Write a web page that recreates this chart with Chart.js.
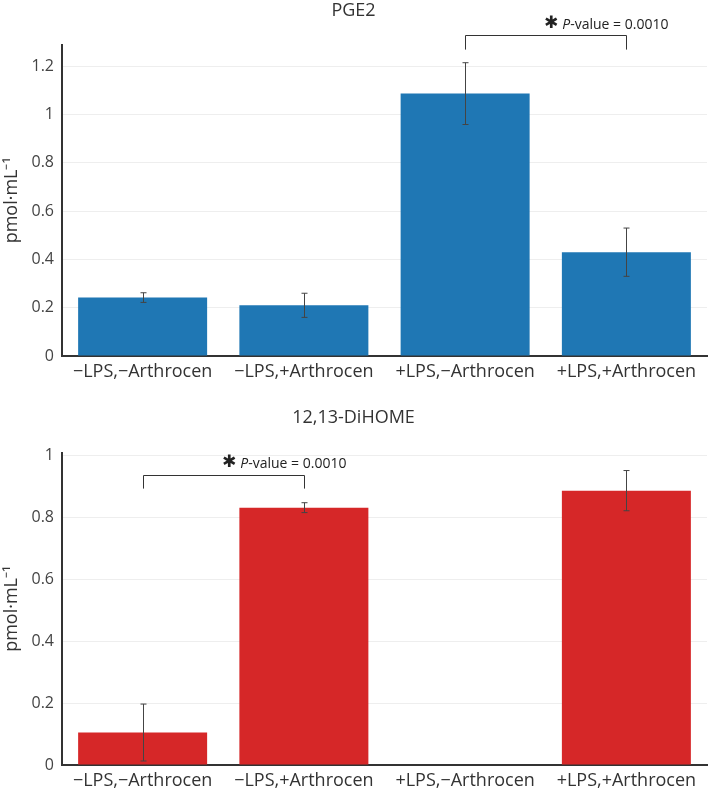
<!DOCTYPE html>
<html>
<head>
<meta charset="utf-8">
<script src="https://cdn.jsdelivr.net/npm/chart.js@4"></script>
<style>
  body { margin: 0; background: #fff; }
  canvas { display: block; }
</style>
</head>
<body>
<canvas id="pgeChart" width="709" height="390"></canvas>
<canvas id="dihomeChart" width="709" height="400"></canvas>
<script>
// data
const categories = ['\u2212LPS,\u2212Arthrocen', '\u2212LPS,+Arthrocen', '+LPS,\u2212Arthrocen', '+LPS,+Arthrocen'];

const pgeValues = [0.242, 0.21, 1.087, 0.43];
const pgeErrors = [0.02, 0.05, 0.128, 0.1];
const pgeTicks = [0, 0.2, 0.4, 0.6, 0.8, 1, 1.2];

const dihomeValues = [0.105, 0.832, 0, 0.887];
const dihomeErrors = [0.092, 0.016, 0, 0.065];
const dihomeTicks = [0, 0.2, 0.4, 0.6, 0.8, 1];

const pLabel = 'P-value = 0.0010';

Chart.defaults.font.family = '"Open Sans", sans-serif';
Chart.defaults.color = '#444';

// draws error bars from the error array + the significance bracket
const extrasPlugin = {
  id: 'extras',
  afterDatasetsDraw(chart, args, opts) {
    const ctx = chart.ctx;
    const xs = chart.scales.x, ys = chart.scales.y;
    ctx.save();
    ctx.strokeStyle = '#444';
    ctx.lineWidth = 1;
    opts.values.forEach((v, i) => {
      const e = opts.errors[i];
      if (!e) return;
      const x = Math.round(xs.getPixelForValue(i)) + 0.5;
      const y1 = ys.getPixelForValue(v + e), y2 = ys.getPixelForValue(v - e);
      ctx.beginPath();
      ctx.moveTo(x, y1); ctx.lineTo(x, y2);
      ctx.moveTo(x - 3, y1); ctx.lineTo(x + 3, y1);
      ctx.moveTo(x - 3, y2); ctx.lineTo(x + 3, y2);
      ctx.stroke();
    });

    // bracket
    const b = opts.bracket;
    const top = chart.chartArea.top;
    const xa = Math.round(xs.getPixelForValue(b.from)) + 0.5;
    const xb = Math.round(xs.getPixelForValue(b.to)) + 0.5;
    const yh = Math.round(top + b.lineY) + 0.5;
    ctx.strokeStyle = '#333';
    ctx.beginPath();
    ctx.moveTo(xa, top + b.legY); ctx.lineTo(xa, yh); ctx.lineTo(xb, yh); ctx.lineTo(xb, top + b.legY);
    ctx.stroke();

    // label: heavy asterisk, italic P, rest normal
    let tx = (xa + xb) / 2 - 2;
    const ty = top + b.textY;
    ctx.fillStyle = '#222';
    ctx.textBaseline = 'middle';
    ctx.font = '17px "DejaVu Sans"';
    ctx.fillText('\u2731', tx, ty);
    tx += ctx.measureText('\u2731').width + 4;
    ctx.font = 'italic 14px "Open Sans"';
    ctx.fillText(pLabel[0], tx, ty + 1);
    tx += ctx.measureText(pLabel[0]).width;
    ctx.font = '14px "Open Sans"';
    ctx.fillText(pLabel.slice(1), tx, ty + 1);
    ctx.restore();
  }
};

function makeChart(id, title, values, errors, color, tickVals, yMax, titlePad, axisH, bracket) {
  return new Chart(document.getElementById(id), {
    type: 'bar',
    data: {
      labels: categories,
      datasets: [{
        data: values,
        backgroundColor: color,
        barPercentage: 0.8,
        categoryPercentage: 1
      }]
    },
    options: {
      responsive: false,
      animation: false,
      layout: { padding: { left: 0, right: 2, top: 0, bottom: 0 } },
      plugins: {
        legend: { display: false },
        tooltip: { enabled: false },
        title: {
          display: true,
          text: title,
          color: '#333',
          font: { size: 18, weight: 'normal' },
          padding: titlePad
        },
        extras: { values: values, errors: errors, bracket: bracket }
      },
      scales: {
        x: {
          grid: { display: false, drawTicks: false },
          border: { display: true, color: '#333', width: 2 },
          ticks: { color: '#333', font: { size: 18 }, padding: 5, maxRotation: 0 },
          afterFit(s) { s.height = axisH; }
        },
        y: {
          min: 0,
          max: yMax,
          grid: { color: '#eeeeee', drawTicks: false },
          border: { display: true, color: '#333', width: 2 },
          ticks: {
            color: '#444',
            font: { size: 16 },
            padding: 8,
            callback: v => String(+v.toFixed(2))
          },
          afterBuildTicks(s) { s.ticks = tickVals.map(v => ({ value: v })); },
          title: {
            display: true,
            text: 'pmol\u00b7mL\u207b\u00b9',
            color: '#333',
            font: { size: 18 },
            padding: { top: 1, bottom: 0 }
          },
          afterFit(s) { s.width = 62; }
        }
      }
    },
    plugins: [extrasPlugin]
  });
}

makeChart('pgeChart', 'PGE2', pgeValues, pgeErrors, '#1f77b4', pgeTicks, 1.29,
  { top: 0, bottom: 23 }, 34,
  { from: 2, to: 3, lineY: -10, legY: 5, textY: -21 });

makeChart('dihomeChart', '12,13-DiHOME', dihomeValues, dihomeErrors, '#d62728', dihomeTicks, 1.01,
  { top: 17, bottom: 24 }, 25,
  { from: 0, to: 1, lineY: 22, legY: 36, textY: 10 });
</script>
</body>
</html>
